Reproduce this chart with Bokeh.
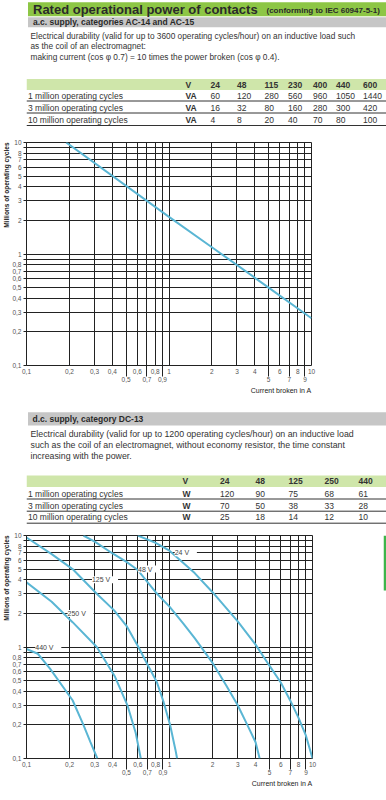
from bokeh.plotting import figure
from bokeh.layouts import column, row
from bokeh.models import Range1d, FixedTicker, LogAxis, Title, LabelSet, ColumnDataSource
from bokeh.core.properties import value
from bokeh.embed import file_html
from bokeh.resources import INLINE

FONT = "Liberation Sans"
TXT = "#333333"
GRID = "#222222"
BLUE = "#5ab6d4"

# ---------------- data ----------------
ac_voltages = [24, 48, 115, 230, 400, 440, 600]
ac_va_1m = [60, 120, 280, 560, 960, 1050, 1440]
ac_va_3m = [16, 32, 80, 160, 280, 300, 420]
ac_va_10m = [4, 8, 20, 40, 70, 80, 100]
row_labels = ["1 million operating cycles", "3 million operating cycles", "10 million operating cycles"]

dc_voltages = [24, 48, 125, 250, 440]
dc_w_1m = [120, 90, 75, 68, 61]
dc_w_3m = [70, 50, 38, 33, 28]
dc_w_10m = [25, 18, 14, 12, 10]

# AC-14/AC-15 durability curve (current broken A -> millions of cycles)
ac_current = [0.19, 1, 2, 5, 10]
ac_cycles = [10, 2.15, 1.15, 0.5, 0.265]

# DC-13 durability curves
dc_24_i = [0.6, 0.8, 1, 1.5, 2, 3, 4, 5, 6, 7, 8, 9, 10]
dc_24_n = [10, 8.6, 7.3, 4.6, 3.1, 1.7, 1.05, 0.68, 0.48, 0.33, 0.23, 0.16, 0.1]
dc_48_i = [0.25, 0.3, 0.4, 0.5, 0.6, 0.8, 1.0, 1.25, 1.5, 2, 2.5, 3, 3.5, 4, 4.27]
dc_48_n = [10, 8.8, 6.9, 5.8, 4.9, 3.1, 2.3, 1.62, 1.2, 0.72, 0.45, 0.3, 0.2, 0.14, 0.1]
dc_125_i = [0.1, 0.15, 0.21, 0.31, 0.41, 0.5, 0.606, 0.7, 0.815, 0.91, 1.01, 1.1, 1.13]
dc_125_n = [9.6, 6.8, 5.0, 3.0, 2.13, 1.55, 1.0, 0.7, 0.485, 0.32, 0.2, 0.12, 0.1]
dc_250_i = [0.1, 0.15, 0.21, 0.31, 0.416, 0.508, 0.58, 0.63]
dc_250_n = [3.8, 2.55, 1.67, 1.0, 0.54, 0.3, 0.17, 0.1]
dc_440_i = [0.1, 0.12, 0.146, 0.21, 0.25, 0.28, 0.313]
dc_440_n = [0.96, 0.87, 0.64, 0.333, 0.2, 0.14, 0.1]
dc_curve_names = ["24 V", "48 V", "125 V", "250 V", "440 V"]

x_grid_ticks = [0.1, 0.2, 0.3, 0.4, 0.5, 0.6, 0.7, 0.8, 0.9, 1, 2, 3, 4, 5, 6, 7, 8, 9, 10]
x_row1_ticks = [0.1, 0.2, 0.3, 0.4, 0.6, 0.8, 1, 2, 3, 4, 6, 8, 10]
x_row2_ticks = [0.5, 0.7, 0.9, 5, 7, 9]
y_ticks = [0.1, 0.2, 0.3, 0.4, 0.5, 0.6, 0.7, 0.8, 0.9, 1, 2, 3, 4, 5, 6, 7, 8, 9, 10]
y_unlabelled = [0.9, 9]

# curve label placement (chart 2)
lab_x = [1.3, 0.72, 0.354, 0.239, 0.142]
lab_y = [7, 5, 4, 2, 1]


def fmt(t):
    return ("%g" % t).replace(".", ",")


def txt(p, x, y, s, size, bold=False, color=TXT, align="left"):
    p.text(x=[x], y=[y], text=[s], text_font=value(FONT), text_font_size=size,
           text_font_style="bold" if bold else "normal", text_color=color,
           text_align=align, text_baseline="middle")


def blank_fig(width, height, y0):
    p = figure(frame_width=width, frame_height=height, x_range=Range1d(0, width),
               y_range=Range1d(y0 + height, y0),
               output_backend="svg", toolbar_location=None, x_axis_location=None, y_axis_location=None,
               min_border_left=0, min_border_right=0, min_border_top=0, min_border_bottom=0)
    p.grid.visible = False
    p.outline_line_color = None
    return p


def table(p, y_head, head_top, head_bot, x_unit, unit, volts, rows, col_x, row_y, line_y, line_right):
    p.quad(left=[0], right=[line_right], top=[head_top], bottom=[head_bot], fill_color="#cfe6aa", line_color=None)
    txt(p, x_unit, y_head, "V", "8.5px", bold=True)
    for cx, v in zip(col_x, volts):
        txt(p, cx, y_head, str(v), "8.5px", bold=True)
    for ry, lab, vals in zip(row_y, row_labels, rows):
        txt(p, 1.5, ry, lab, "8.5px")
        txt(p, x_unit, ry, unit, "8.5px", bold=True)
        for cx, v in zip(col_x, vals):
            txt(p, cx, ry, str(v), "8.5px")
    p.segment(x0=[0] * 3, x1=[line_right] * 3, y0=line_y, y1=line_y, line_color="#333333", line_width=1)


def chart(fw, fh, bl, br, bt, bb):
    p = figure(frame_width=fw, frame_height=fh, x_axis_type="log", y_axis_type="log",
               x_range=Range1d(0.1, 10), y_range=Range1d(0.1, 10), output_backend="svg",
               toolbar_location=None, min_border_left=bl, min_border_right=br,
               min_border_top=bt, min_border_bottom=bb)
    p.outline_line_color = GRID
    xt = FixedTicker(ticks=x_grid_ticks)
    yt = FixedTicker(ticks=y_ticks)
    p.xgrid[0].ticker = xt
    p.ygrid[0].ticker = yt
    for g in (p.xgrid[0], p.ygrid[0]):
        g.grid_line_color = GRID
        g.grid_line_alpha = 1
        g.grid_line_width = 1
    ax = p.xaxis[0]
    ax.ticker = FixedTicker(ticks=x_row1_ticks)
    ax.major_label_overrides = {t: fmt(t) for t in x_row1_ticks}
    ax2 = LogAxis(ticker=FixedTicker(ticks=x_row2_ticks),
                  major_label_overrides={t: fmt(t) for t in x_row2_ticks})
    p.add_layout(ax2, "below")
    for a in (ax, ax2):
        a.axis_line_color = None
        a.minor_tick_line_color = None
        a.major_label_text_font = FONT
        a.major_label_text_font_size = "6.5px"
        a.major_label_text_color = "#555555"
    ax.major_label_standoff = 3
    ax2.major_label_standoff = 0
    ax.major_tick_line_color = None
    ax.major_tick_out = 0
    ax.major_tick_in = 0
    ax2.major_tick_in = 11
    ax2.major_tick_out = 0
    ax2.major_tick_line_color = GRID
    ay = p.yaxis[0]
    ay.ticker = yt
    ay.major_label_overrides = {t: ("" if t in y_unlabelled else fmt(t)) for t in y_ticks}
    ay.axis_line_color = GRID
    ay.minor_tick_line_color = None
    ay.major_tick_out = 3
    ay.major_tick_in = 0
    ay.major_tick_line_color = GRID
    ay.major_label_text_font = FONT
    ay.major_label_text_font_size = "6.5px"
    ay.major_label_text_color = "#555555"
    ay.major_label_standoff = 2
    p.add_layout(Title(text="Current broken in A", align="right", text_font=FONT, text_font_size="7px",
                       text_font_style="normal", text_color="#222222", standoff=0, offset=0), "below")
    p.add_layout(Title(text="Millions of operating cycles", align="right", text_font=FONT,
                       text_font_size="6.5px", text_font_style="bold", text_color="#222222",
                       standoff=0, offset=0), "left")
    return p


# ---------------- AC header ----------------
fa = blank_fig(386, 133, 0)
fa.quad(left=[1.5], right=[372], top=[1.7], bottom=[15.7], fill_color="#8dc645", line_color=None)
txt(fa, 6.5, 9.3, "Rated operational power of contacts", "13px", bold=True, color="#2a2a2a")
txt(fa, 240, 10, "(conforming to IEC 60947-5-1)", "8px", bold=True, color="#2a2a2a")
fa.quad(left=[1.5], right=[372], top=[16.7], bottom=[26.7], fill_color="#c6c6c6", line_color=None)
txt(fa, 6.5, 21.7, "a.c. supply, categories AC-14 and AC-15", "8.5px", bold=True, color="#2a2a2a")
txt(fa, 4, 35, "Electrical durability (valid for up to 3600 operating cycles/hour) on an inductive load such", "8.3px")
txt(fa, 4, 45.5, "as the coil of an electromagnet:", "8.3px")
txt(fa, 4, 56, "making current (cos \u03c6 0.7) = 10 times the power broken (cos \u03c6 0.4).", "8.3px")
table(fa, 84, 78.5, 89.5, 159, "VA", ac_voltages, [ac_va_1m, ac_va_3m, ac_va_10m],
      [184, 210.5, 238, 261.5, 286.5, 309.5, 336.5], [95.3, 107.3, 119.3], [100.5, 112.5, 125], 361)

# ---------------- AC chart ----------------
fb = chart(285, 223, 26, 75, 9, 35)
fb.line(ac_current, ac_cycles, line_color=BLUE, line_width=2)

# ---------------- DC header ----------------
fc = blank_fig(386, 130, 400)
fc.quad(left=[1.5], right=[380], top=[411.7], bottom=[425], fill_color="#c6c6c6", line_color=None)
txt(fc, 6, 418.5, "d.c. supply, category DC-13", "8.5px", bold=True, color="#2a2a2a")
txt(fc, 4, 433.3, "Electrical durability (valid for up to 1200 operating cycles/hour) on an inductive load", "8.8px")
txt(fc, 4, 444.3, "such as the coil of an electromagnet, without economy resistor, the time constant", "8.8px")
txt(fc, 4, 455.3, "increasing with the power.", "8.8px")
table(fc, 480.7, 475, 486.5, 156, "W", dc_voltages, [dc_w_1m, dc_w_3m, dc_w_10m],
      [193.5, 229, 262, 298, 332], [493, 505, 516.7], [498.5, 510.7, 522.7], 360)
fc.quad(left=[380], right=[386], top=[509], bottom=[530], fill_color="#3db54a", line_color=None)

# ---------------- DC chart ----------------
fd = chart(286, 223, 23, 71, 5, 42)
for xs, ys in [(dc_24_i, dc_24_n), (dc_48_i, dc_48_n), (dc_125_i, dc_125_n),
               (dc_250_i, dc_250_n), (dc_440_i, dc_440_n)]:
    fd.line(xs, ys, line_color=BLUE, line_width=2)
src = ColumnDataSource(dict(x=lab_x, y=lab_y, t=["  " + n + "  " for n in dc_curve_names]))
fd.add_layout(LabelSet(source=src, x="x", y="y", text="t", text_align="center", text_baseline="middle",
                       background_fill_color="white", text_font=value(FONT), text_font_size="7px",
                       text_color="#444444"))

fe = blank_fig(6, 270, 530)
fe.quad(left=[0], right=[6], top=[530], bottom=[585], fill_color="#3db54a", line_color=None)

layout = column(fa, fb, fc, row(fd, fe, spacing=0), spacing=0)
open("out.html", "w").write(file_html(layout, INLINE))
